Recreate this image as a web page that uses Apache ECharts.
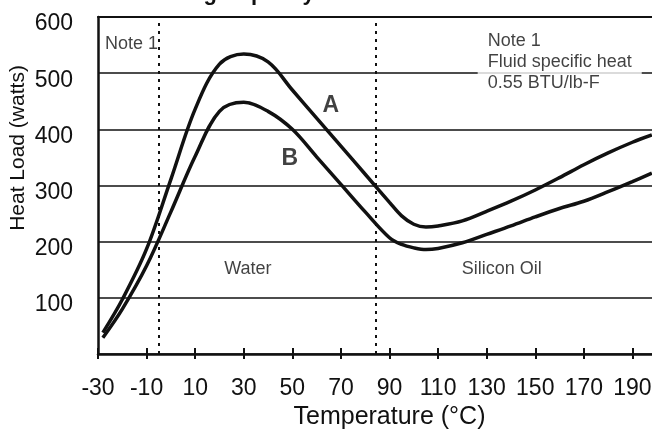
<!DOCTYPE html>
<html>
<head>
<meta charset="utf-8">
<script src="https://cdn.jsdelivr.net/npm/echarts@6/dist/echarts.min.js"></script>
<style>
html,body{margin:0;padding:0;background:#fff;}
#chart{width:652px;height:430px;}
</style>
</head>
<body>
<div id="chart"></div>
<script>
// ---- data ----
const titleText = 'Cooling Capacity';
const xAxisName = 'Temperature (°C)';
const yAxisName = 'Heat Load (watts)';
const temps = [-28,-20,-10,0,10,20,30,40,50,60,70,80,90,95,100,105,110,120,130,140,150,160,170,180,190,198];
const loadA = [38,97,187,311,436,516,534,520,470,420,370,320,270,246,231,226,228,237,254,272,292,314,337,358,377,390];
const loadB = [29,80,157,253,352,432,448,432,400,351,302,253,207,195,189,186,188,198,213,228,244,259,272,289,307,322];
const fluidDividers = [-5, 84.5];
const regionLabels = [
  {name: 'Water', value: [31.7, 152]},
  {name: 'Silicon Oil', value: [136.2, 152]}
];
const curveLabels = [
  {name: 'A', value: [65.8, 442.5]},
  {name: 'B', value: [49, 347.5]}
];
const noteLeft = {text: 'Note 1', value: [-27.1, 571]};
const noteRight = {text: 'Note 1\nFluid specific heat\n0.55 BTU/lb-F', value: [126.3, 580]};
const xMin = -30, xMax = 210, xStep = 20;
const yMin = 0, yMax = 600, yStep = 100;

const FONT = '"Liberation Sans Narrow","Liberation Sans",sans-serif';
const INK = '#111';

const chart = echarts.init(document.getElementById('chart'), null, {renderer: 'canvas'});

const option = {
  backgroundColor: '#fff',
  animation: false,
  grid: {left: 98, right: -29, top: 17, bottom: 76, containLabel: false, outerBoundsMode: 'none'},
  graphic: [
    {
      type: 'text', left: 135, top: -17, z: 100,
      style: {text: titleText, fill: INK, font: 'bold 22px "Liberation Sans", sans-serif'}
    },
    {
      type: 'text', x: 18, y: 148, rotation: Math.PI / 2, z: 100,
      style: {text: yAxisName, fill: INK, font: '21px ' + FONT, align: 'center', verticalAlign: 'middle'}
    }
  ],
  xAxis: [
    {
      type: 'value', min: xMin, max: xMax, interval: xStep, position: 'bottom',
      name: xAxisName, nameLocation: 'middle', nameGap: 50,
      nameTextStyle: {color: INK, fontSize: 25, fontFamily: FONT},
      axisLine: {show: true, onZero: false, lineStyle: {color: INK, width: 2.5}},
      axisTick: {show: true, inside: false, length: 5, lineStyle: {color: INK, width: 2}},
      axisLabel: {color: INK, fontSize: 23, fontFamily: FONT, margin: 23,
                  formatter: v => (v > 195 ? '' : String(v))},
      splitLine: {show: false}
    },
    {
      type: 'value', min: xMin, max: xMax, interval: xStep, position: 'bottom',
      axisLine: {show: false, onZero: false},
      axisTick: {show: true, inside: true, length: 6, lineStyle: {color: INK, width: 2}},
      axisLabel: {show: false},
      splitLine: {show: false}
    },
    {
      type: 'value', min: xMin, max: xMax, interval: xStep, position: 'top',
      axisLine: {show: true, onZero: false, lineStyle: {color: INK, width: 2}},
      axisTick: {show: false},
      axisLabel: {show: false},
      splitLine: {show: false}
    }
  ],
  yAxis: {
    type: 'value', min: yMin, max: yMax, interval: yStep,
    axisLine: {show: true, onZero: false, lineStyle: {color: INK, width: 2.5}},
    axisTick: {show: false},
    axisLabel: {
      color: INK, fontSize: 23, fontFamily: FONT, margin: 25,
      verticalAlign: 'top', lineHeight: 14,
      formatter: v => (v === 0 ? '' : String(v))
    },
    splitLine: {show: true, lineStyle: {color: INK, width: 1.5}}
  },
  series: [
    {
      name: 'A', type: 'line', xAxisIndex: 0, smooth: 0.35, showSymbol: false, symbol: 'none',
      lineStyle: {color: INK, width: 3.5},
      data: temps.map((t, i) => [t, loadA[i]]),
      markLine: {
        silent: true, symbol: 'none', label: {show: false},
        lineStyle: {color: INK, width: 2, type: [3, 5]},
        data: fluidDividers.map(v => ({xAxis: v}))
      },
      z: 3
    },
    {
      name: 'B', type: 'line', xAxisIndex: 0, smooth: 0.35, showSymbol: false, symbol: 'none',
      lineStyle: {color: INK, width: 3.5},
      data: temps.map((t, i) => [t, loadB[i]]),
      z: 3
    },
    {
      name: 'regions', type: 'scatter', xAxisIndex: 0, symbolSize: 0, silent: true,
      label: {show: true, position: 'inside', formatter: p => p.name, color: INK, fontSize: 18, fontFamily: FONT},
      data: regionLabels, z: 4
    },
    {
      name: 'curveNames', type: 'scatter', xAxisIndex: 0, symbolSize: 0, silent: true,
      label: {show: true, position: 'inside', formatter: p => p.name, color: INK, fontSize: 23, fontWeight: 'bold', fontFamily: '"Liberation Sans", sans-serif'},
      data: curveLabels, z: 4
    },
    {
      name: 'notes', type: 'scatter', xAxisIndex: 0, symbolSize: 0, silent: true,
      label: {show: true, position: [0, 0], align: 'left', verticalAlign: 'top', color: INK, fontSize: 18, fontFamily: FONT, lineHeight: 21},
      data: [
        {value: noteLeft.value, label: {formatter: noteLeft.text}},
        {value: noteRight.value, label: {formatter: noteRight.text, backgroundColor: '#fff', padding: [2, 10, 2, 10]}}
      ],
      z: 5
    }
  ]
};
chart.setOption(option);
</script>
</body>
</html>
